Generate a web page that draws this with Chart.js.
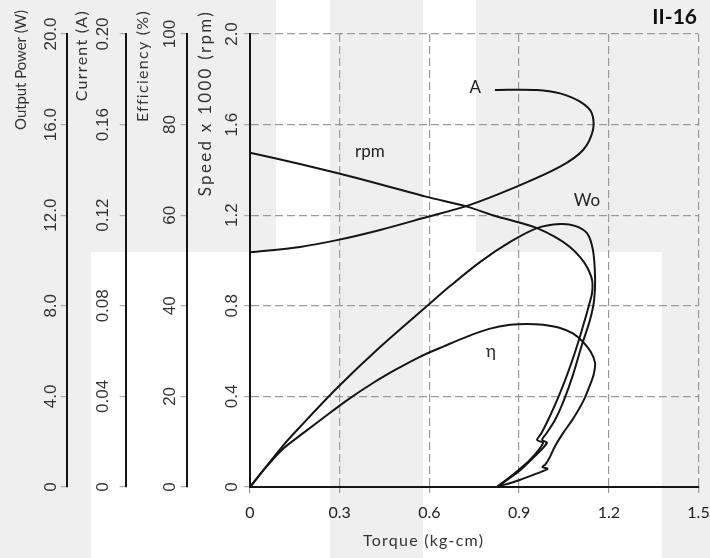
<!DOCTYPE html>
<html>
<head>
<meta charset="utf-8">
<title>II-16 motor performance</title>
<script src="https://cdn.jsdelivr.net/npm/chart.js@4.4.0/dist/chart.umd.min.js"></script>
<style>
    html, body { margin: 0; padding: 0; background: #fff; }
    #wrap { position: relative; width: 710px; height: 558px; }
</style>
</head>
<body>
<div id="wrap"><canvas id="motorChart"></canvas></div>
<script>
// Tick labels
const torqueTicks = ['0', '0.3', '0.6', '0.9', '1.2', '1.5'];
const speedTicks = ['0', '0.4', '0.8', '1.2', '1.6', '2.0'];
const effTicks = ['0', '20', '40', '60', '80', '100'];
const currentTicks = ['0', '0.04', '0.08', '0.12', '0.16', '0.20'];
const powerTicks = ['0', '4.0', '8.0', '12.0', '16.0', '20.0'];

// Speed x 1000 (rpm) vs torque (kg-cm)
const rpmTorque = [0, 0.167, 0.291, 0.435, 0.592, 0.726, 0.812, 0.900, 0.960, 1.020, 1.070, 1.104, 1.127, 1.144, 1.144, 1.134, 1.110, 1.084, 1.054, 1.027, 0.997, 0.973, 0.960, 0.980, 0.936, 0.886, 0.826];
const rpmSpeed = [1.476, 1.426, 1.386, 1.337, 1.281, 1.238, 1.200, 1.168, 1.143, 1.104, 1.060, 1.015, 0.971, 0.914, 0.857, 0.804, 0.693, 0.583, 0.472, 0.384, 0.296, 0.234, 0.208, 0.194, 0.119, 0.062, 0];

// Current (A)
const ampTorque = [0, 0.167, 0.291, 0.435, 0.592, 0.726, 0.892, 1.037, 1.114, 1.147, 1.143, 1.104, 1.037, 0.959, 0.819];
const ampCurrent = [0.1036, 0.1060, 0.1090, 0.1135, 0.1192, 0.1241, 0.1326, 0.1414, 0.1488, 0.1576, 0.1651, 0.1701, 0.1738, 0.1753, 0.1753];

// Output power (W)
const woTorque = [0, 0.110, 0.167, 0.291, 0.435, 0.592, 0.669, 0.769, 0.870, 0.960, 1.037, 1.087, 1.127, 1.147, 1.154, 1.151, 1.137, 1.110, 1.080, 1.050, 1.020, 0.990, 0.977, 0.993, 0.946, 0.896, 0.826];
const woPower = [0, 1.82, 2.65, 4.37, 6.18, 7.99, 8.87, 9.93, 10.82, 11.43, 11.61, 11.53, 11.21, 10.46, 9.27, 8.26, 7.37, 6.27, 4.94, 3.84, 2.96, 2.34, 2.08, 1.94, 1.28, 0.66, 0];

// Efficiency (%)
const effTorque = [0, 0.050, 0.110, 0.180, 0.250, 0.330, 0.410, 0.490, 0.570, 0.650, 0.730, 0.800, 0.870, 0.926, 0.980, 1.037, 1.080, 1.114, 1.140, 1.154, 1.150, 1.140, 1.115, 1.080, 1.047, 1.020, 1.003, 0.988, 0.978, 0.995, 0.960, 0.900, 0.826];
const effPct = [0, 4.1, 8.4, 12.0, 15.5, 19.4, 22.9, 26.0, 28.8, 31.1, 33.3, 34.9, 35.8, 36.0, 35.8, 35.1, 33.9, 32.0, 29.8, 27.4, 25.0, 23.0, 19.0, 15.0, 11.9, 9.0, 6.6, 5.0, 4.4, 4.0, 3.0, 1.5, 0];

// Curve names, placed in torque / speed units
const curveLabels = [
    { text: 'A', x: 0.753, y: 1.762 },
    { text: 'rpm', x: 0.401, y: 1.479 },
    { text: 'Wo', x: 1.127, y: 1.263 },
    { text: '\u03B7', x: 0.806, y: 0.596 }
];

// rotated titles: offset from the axis line, font size and printed length
const axisTitles = [
    { axis: 'power', text: 'Output Power (W)', dx: -46, size: 15, len: 120 },
    { axis: 'current', text: 'Current (A)', dx: -44, size: 16, len: 90 },
    { axis: 'eff', text: 'Efficiency (%)', dx: -44, size: 16, len: 110 },
    { axis: 'y', text: 'Speed x 1000 (rpm)', dx: -44, size: 17, len: 184 }
];

// grey patches of the scanned page
const paperBlocks = [
    [0, 0, 91, 558],
    [91, 0, 185, 252],
    [330, 0, 93, 558],
    [476, 0, 234, 252],
    [662, 252, 48, 306]
];

const ink = '#151515';
const gridGrey = '#9a9a9a';
const sansFont = "Lato, 'Open Sans', sans-serif";
const tickFont = "'Liberation Sans', Arial, sans-serif";

Chart.defaults.font.family = sansFont;
Chart.defaults.color = '#222';

function toPoints(xs, ys) {
    return xs.map((x, i) => ({ x: x, y: ys[i] }));
}

function curve(data, axisId) {
    return {
        data: data,
        yAxisID: axisId,
        showLine: true,
        borderColor: ink,
        borderWidth: 2,
        pointRadius: 0,
        tension: 0.3,
        fill: false
    };
}

// one of the four stacked left axes
function leftAxis(labels, max, step, weight, width, pad, onChart) {
    return {
        type: 'linear',
        position: 'left',
        weight: weight,
        min: 0,
        max: max,
        afterFit: scale => { scale.width = width; },
        ticks: {
            stepSize: step,
            autoSkip: false,
            minRotation: 90,
            maxRotation: 90,
            crossAlign: 'center',
            padding: pad,
            color: '#333',
            font: { family: tickFont, size: 17 },
            callback: (v, i) => labels[i]
        },
        grid: {
            drawOnChartArea: onChart,
            color: gridGrey,
            lineWidth: 1.2,
            tickLength: 6,
            tickColor: '#aaa'
        },
        border: { color: ink, width: 2, dash: [8, 4] }
    };
}

// text stretched to the length it has on the sheet
function spacedText(ctx, text, x, y, len) {
    ctx.letterSpacing = '0px';
    const w = ctx.measureText(text).width;
    const gap = (len - w) / Math.max(text.length - 1, 1);
    ctx.letterSpacing = gap.toFixed(2) + 'px';
    ctx.fillText(text, x, y);
    ctx.letterSpacing = '0px';
}

const pagePlugin = {
    id: 'page',
    beforeDraw(chart) {
        const ctx = chart.ctx;
        ctx.save();
        ctx.fillStyle = '#ffffff';
        ctx.fillRect(0, 0, chart.width, chart.height);
        ctx.fillStyle = '#efefef';
        paperBlocks.forEach(b => ctx.fillRect(b[0], b[1], b[2], b[3]));
        ctx.restore();
    },
    afterDraw(chart) {
        const ctx = chart.ctx;
        const xs = chart.scales.x;
        const ys = chart.scales.y;
        ctx.save();
        ctx.fillStyle = '#333';
        ctx.textBaseline = 'middle';
        // rotated axis titles
        axisTitles.forEach(t => {
            const sc = chart.scales[t.axis];
            ctx.save();
            ctx.font = t.size + 'px ' + sansFont;
            ctx.translate(sc.right + t.dx, 10);
            ctx.rotate(-Math.PI / 2);
            ctx.textAlign = 'right';
            spacedText(ctx, t.text, 0, 0, t.len);
            ctx.restore();
        });
        // torque title
        ctx.font = '16px ' + sansFont;
        ctx.textAlign = 'left';
        spacedText(ctx, 'Torque (kg-cm)', xs.getPixelForValue(0.378), chart.height - 17, 120);
        // curve names
        ctx.textAlign = 'center';
        ctx.fillStyle = '#222';
        ctx.font = '17px ' + sansFont;
        curveLabels.forEach(l => {
            ctx.fillText(l.text, xs.getPixelForValue(l.x), ys.getPixelForValue(l.y));
        });
        // sheet number
        ctx.font = 'bold 21px ' + sansFont;
        ctx.textAlign = 'right';
        ctx.fillStyle = '#111';
        ctx.fillText('II-16', 697, 17);
        ctx.restore();
    }
};

new Chart(document.getElementById('motorChart'), {
    type: 'scatter',
    data: {
        datasets: [
            curve(toPoints(rpmTorque, rpmSpeed), 'y'),
            curve(toPoints(ampTorque, ampCurrent), 'current'),
            curve(toPoints(woTorque, woPower), 'power'),
            curve(toPoints(effTorque, effPct), 'eff')
        ]
    },
    options: {
        responsive: true,
        maintainAspectRatio: false,
        animation: false,
        layout: { padding: { left: 6.7, right: 0, top: 34, bottom: 0 } },
        plugins: {
            legend: { display: false },
            tooltip: { enabled: false }
        },
        scales: {
            x: {
                type: 'linear',
                position: 'bottom',
                min: 0,
                max: 1.5,
                afterFit: scale => {
                    scale.height = 71;
                    scale.paddingLeft = 0;
                    scale.paddingRight = 11.5;
                },
                ticks: {
                    stepSize: 0.3,
                    autoSkip: false,
                    maxRotation: 0,
                    padding: 10,
                    color: '#222',
                    font: { size: 16 },
                    callback: (v, i) => torqueTicks[i]
                },
                grid: { color: gridGrey, lineWidth: 1.2, tickLength: 6 },
                border: { color: ink, width: 2, dash: [8, 4] }
            },
            power: leftAxis(powerTicks, 20, 4, 4, 60, -7.5, false),
            current: leftAxis(currentTicks, 0.2, 0.04, 3, 59, 0, false),
            eff: leftAxis(effTicks, 100, 20, 2, 61, -3.5, false),
            y: leftAxis(speedTicks, 2, 0.4, 1, 63.3, 0, true)
        }
    },
    plugins: [pagePlugin]
});
</script>
</body>
</html>
